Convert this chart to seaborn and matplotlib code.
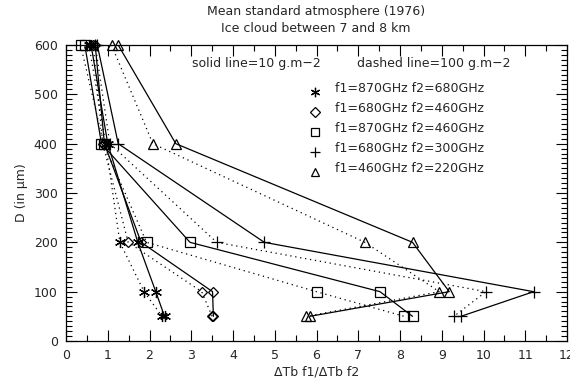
import numpy as np
import pandas as pd
import matplotlib
matplotlib.use("Agg")
import matplotlib.pyplot as plt
import seaborn as sns
from matplotlib.ticker import MultipleLocator

# ---- data ----
D = [600, 400, 200, 100, 50]
labels = ["f1=870GHz f2=680GHz", "f1=680GHz f2=460GHz", "f1=870GHz f2=460GHz",
          "f1=680GHz f2=300GHz", "f1=460GHz f2=220GHz"]
# solid line = 10 g.m-2
ast_solid = [0.60, 1.00, 1.72, 2.15, 2.36]
dia_solid = [0.70, 0.92, 1.80, 3.51, 3.53]
sq_solid = [0.45, 0.85, 2.97, 7.52, 8.30]
plus_solid = [0.75, 1.25, 4.75, 11.20, 9.46]
tri_solid = [1.25, 2.63, 8.30, 9.18, 5.84]
# dashed (dotted) line = 100 g.m-2
ast_dot = [0.55, 0.95, 1.29, 1.87, 2.30]
dia_dot = [0.65, 0.88, 1.49, 3.25, 3.50]
sq_dot = [0.35, 0.90, 1.93, 6.00, 8.10]
plus_dot = [0.70, 1.05, 3.61, 10.06, 9.29]
tri_dot = [1.09, 2.08, 7.16, 8.94, 5.76]

solid = [ast_solid, dia_solid, sq_solid, plus_solid, tri_solid]
dotted = [ast_dot, dia_dot, sq_dot, plus_dot, tri_dot]
markers = [(6, 2, 0), "D", "s", "+", "^"]
msizes = [8, 5.5, 7, 9, 7.5]

rows = []
for i, lab in enumerate(labels):
    for kind, arr in (("10", solid[i]), ("100", dotted[i])):
        for d, v in zip(D, arr):
            rows.append({"series": lab, "lwp": kind, "D": d, "ratio": v, "idx": i})
df = pd.DataFrame(rows)

sns.set_style("white")
plt.rcParams["font.family"] = ["DejaVu Sans"]
fs = 9

fig = plt.figure(figsize=(5.70, 3.86), dpi=100)
ax = fig.add_axes([66/570, 45/386, (567-66)/570, (341-45)/386])

for i, lab in enumerate(labels):
    for kind, ls in (("10", "-"), ("100", (0, (1, 3)))):
        sub = df[(df.series == lab) & (df.lwp == kind)]
        sns.lineplot(data=sub, x="ratio", y="D", sort=False, estimator=None,
                     ax=ax, color="black", linestyle=ls, linewidth=0.9,
                     legend=False)
        sns.lineplot(data=sub, x="ratio", y="D", sort=False, estimator=None,
                     ax=ax, color="black", linestyle="none", legend=False,
                     marker=markers[i], markersize=msizes[i], mfc="none",
                     mec="black", mew=0.9, clip_on=False, zorder=3)

ax.set_xlim(0, 12)
ax.set_ylim(0, 600)
ax.xaxis.set_major_locator(MultipleLocator(1))
ax.xaxis.set_minor_locator(MultipleLocator(0.5))
ax.yaxis.set_major_locator(MultipleLocator(100))
ax.yaxis.set_minor_locator(MultipleLocator(10))
ax.tick_params(which="both", direction="in", top=True, right=True,
               bottom=True, left=True, color="black", labelsize=fs, width=0.8)
ax.tick_params(which="major", length=8, pad=6)
ax.tick_params(which="minor", length=4)
for s in ax.spines.values():
    s.set_color("black")
    s.set_linewidth(0.9)
ax.set_xlabel("ΔTb f1/ΔTb f2", fontsize=fs, labelpad=2)
ax.set_ylabel("D (in µm)", fontsize=fs, labelpad=4)

fig.text(316/570, 1 - 12/386, "Mean standard atmosphere (1976)", ha="center",
         va="center", fontsize=fs)
fig.text(316/570, 1 - 28/386, "Ice cloud between 7 and 8 km", ha="center",
         va="center", fontsize=fs)

fig.text(192/570, 1 - 63/386, "solid line=10 g.m\u22122", ha="left", va="center", fontsize=fs)
fig.text(357/570, 1 - 63/386, "dashed line=100 g.m\u22122", ha="left", va="center", fontsize=fs)

for i, lab in enumerate(labels):
    yy = 1 - (88 + 20 * i) / 386
    ax.plot([315/570], [yy + (-4/386)], transform=fig.transFigure,
            marker=markers[i], markersize=msizes[i] * 0.85, mfc="none",
            mec="black", mew=0.9, linestyle="none", clip_on=False)
    fig.text(335/570, yy, lab, ha="left", va="center", fontsize=fs)

fig.savefig("out.png", dpi=100, facecolor="white")
